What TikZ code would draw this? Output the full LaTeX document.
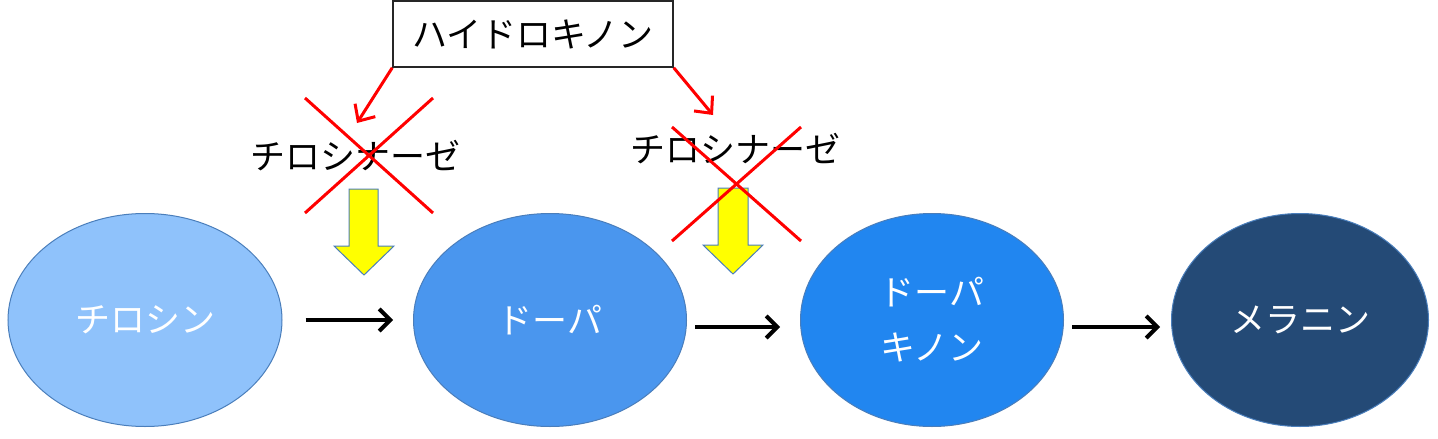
\documentclass[tikz,border=0pt]{standalone}
\usepackage{fontspec}
\setmainfont{Noto Sans CJK JP}
\usetikzlibrary{shapes.geometric, arrows.meta, positioning}
\definecolor{tyrcol}{RGB}{143,194,251}
\definecolor{dopacol}{RGB}{74,150,238}
\definecolor{quincol}{RGB}{33,134,240}
\definecolor{melcol}{RGB}{36,74,118}
\definecolor{rimblue}{RGB}{74,126,187}
\definecolor{enzyellow}{RGB}{255,255,0}
\tikzset{
  stage/.style={ellipse, draw=rimblue, line width=1pt, text=white,
    align=center, inner sep=0pt, minimum height=213},
  inhibbox/.style={rectangle, draw=black!85, fill=white, line width=1.5pt,
    minimum width=280, minimum height=66},
  flow/.style={-{Straight Barb[length=11pt, width=22pt]}, line width=4pt, color=black},
  redarrow/.style={-{Straight Barb[length=13pt, width=24pt]}, line width=3pt, color=red},
  cross/.style={line width=3pt, color=red},
  blocker/.style={fill=enzyellow, draw=rimblue, line width=1pt}
}

\begin{document}
\begin{tikzpicture}[x=1pt, y=-1pt, every node/.style={font=\fontsize{35}{55}\selectfont}]
  \useasboundingbox (0,0) rectangle (1438,439);

  % Pathway
  \node[stage, fill=tyrcol, minimum width=274] (tyr) at (145,320) {チロシン};
  \node[stage, fill=dopacol, minimum width=273] (dopa) at (550,320) {ドーパ};
  \node[stage, fill=quincol, minimum width=263] (dq) at (932,320) {ドーパ\\キノン};
  \node[stage, fill=melcol, minimum width=257] (mel) at (1300,320) {メラニン};

  \draw[flow] ([xshift=23]tyr.east) -- ([xshift=-20]dopa.west);
  \draw[flow] ([xshift=8, yshift=-7]dopa.east) -- ([xshift=-20, yshift=-7]dq.west);
  \draw[flow] ([xshift=8, yshift=-7]dq.east) -- ([xshift=-11, yshift=-7]mel.west);

  % Enzyme steps
  \draw[blocker] (349,189) -- (378,189) -- (378,246) -- (394,246) -- (364,275)
    -- (334,246) -- (349,246) -- cycle;
  \draw[blocker] (718,188) -- (748,188) -- (748,245) -- (763,245) -- (733,274)
    -- (703,245) -- (718,245) -- cycle;
  \node (tyrase1) at (355,156) {チロシナーゼ};
  \node (tyrase2) at (735,149) {チロシナーゼ};

  % Inhibitor
  \node[inhibbox] (hq) at (533,34) {ハイドロキノン};
  \coordinate (hit1) at (357,123);
  \coordinate (hit2) at (713,115);
  \draw[redarrow] (hq.south west) -- (hit1);
  \draw[redarrow] (hq.south east) -- (hit2);

  % Blocked
  \draw[cross] (305,98) -- (433,213) (433,98) -- (305,213);
  \draw[cross] (672,127) -- (801,241) (801,127) -- (672,241);
\end{tikzpicture}
\end{document}
